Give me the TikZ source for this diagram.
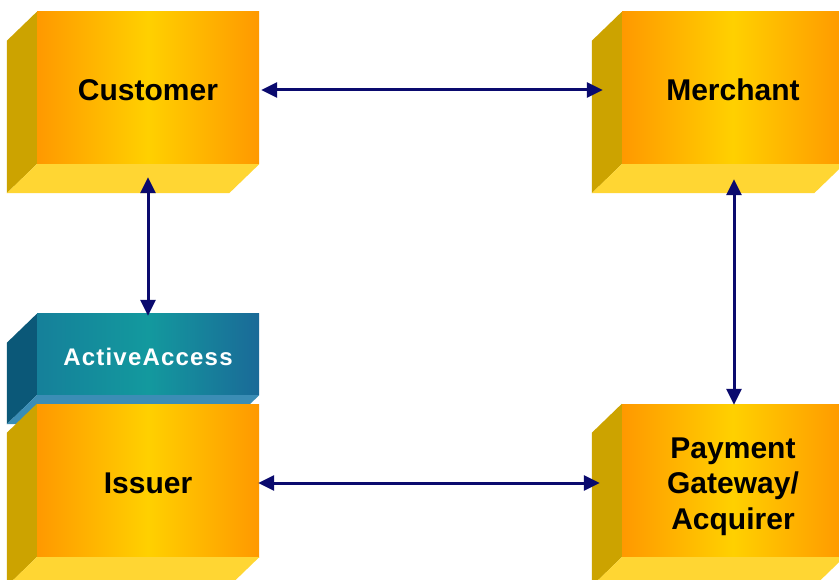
\documentclass[tikz,border=0pt]{standalone}
\usepackage{fontspec}
\setmainfont{Liberation Sans}
\newfontfamily\aafont[LetterSpace=5.0]{Liberation Sans}
\usetikzlibrary{arrows.meta}
\definecolor{orEdge}{HTML}{FF9900}
\definecolor{orMid}{HTML}{FFD000}
\definecolor{orSide}{HTML}{CCA300}
\definecolor{orBottom}{HTML}{FFD633}
\definecolor{tlLeft}{HTML}{15809A}
\definecolor{tlMid}{HTML}{13999E}
\definecolor{tlRight}{HTML}{1A6A98}
\definecolor{tlSide}{HTML}{0B5878}
\definecolor{tlBottom}{HTML}{3B8DB5}
\definecolor{navy}{HTML}{0A0A6E}
\newcommand\boxfaces[3]{%
  \fill[#2] (#1.north west) -- ++(-30,29) -- ([shift={(-30,29)}]#1.south west) -- (#1.south west) -- cycle;
  \fill[#3] (#1.south west) -- (#1.south east) -- ++(-30,29) -- ([shift={(-30,29)}]#1.south west) -- cycle;}
\begin{document}
\begin{tikzpicture}[x=1pt,y=-1pt,
  front/.style={minimum width=222pt, minimum height=152pt, inner sep=0pt,
    left color=orEdge, right color=orEdge, middle color=orMid},
  lbl/.style={font=\fontsize{30}{35.5}\selectfont\bfseries, align=center, text=black, inner sep=0pt},
  aabox/.style={minimum width=222pt, minimum height=81pt, inner sep=0pt,
    left color=tlLeft, right color=tlRight, middle color=tlMid},
  aalbl/.style={font=\aafont\fontsize{24}{28}\selectfont\bfseries, text=white, inner sep=0pt},
  arr/.style={draw=navy, line width=3pt,
    {Triangle[length=16pt,width=15pt]}-{Triangle[length=16pt,width=15pt]}}]
\useasboundingbox (0,0) rectangle (839,580);
\clip (0,0) rectangle (839,580);
\fill[white] (0,0) rectangle (839,580);

\node[front, label={[lbl, yshift=-2pt]center:Customer}] (cust) at (148,88) {};
\boxfaces{cust}{orSide}{orBottom}
\node[front, label={[lbl, yshift=-2pt]center:Merchant}] (merch) at (733,88) {};
\boxfaces{merch}{orSide}{orBottom}

\node[aabox, label={[aalbl, yshift=-2pt]center:ActiveAccess}] (aa) at (148,354.5) {};
\boxfaces{aa}{tlSide}{tlBottom}
\node[front, minimum height=153pt, label={[lbl, yshift=-3pt]center:Issuer}] (iss) at (148,480.5) {};
\boxfaces{iss}{orSide}{orBottom}
\node[front, minimum height=153pt, label={[lbl, yshift=-6pt]center:Payment\\Gateway/\\Acquirer}] (pay) at (733,480.5) {};
\boxfaces{pay}{orSide}{orBottom}

\draw[arr] ([shift={(2,2)}]cust.east) -- ([shift={(-19,2)}]merch.west);
\draw[arr] ([shift={(0,13)}]cust.south) -- ([shift={(0,2)}]aa.north);
\draw[arr] ([shift={(1,15)}]merch.south) -- ([shift={(1,1)}]pay.north);
\draw[arr] ([shift={(-1,2.5)}]iss.east) -- ([shift={(-22,2.5)}]pay.west);
\end{tikzpicture}
\end{document}
